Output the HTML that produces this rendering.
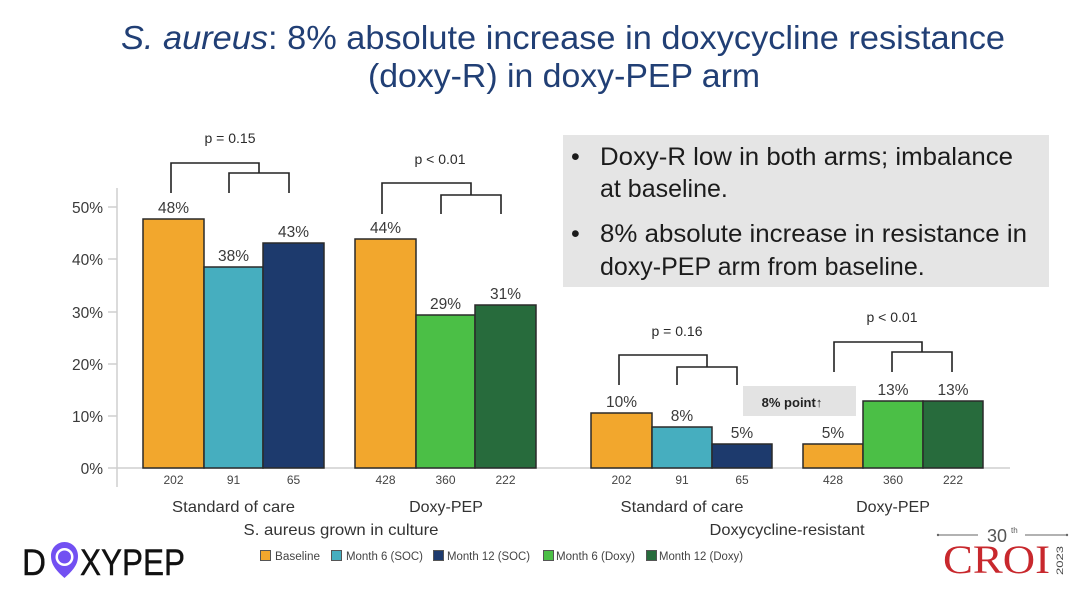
<!DOCTYPE html>
<html>
<head>
<meta charset="utf-8">
<style>
html,body{margin:0;padding:0;background:#fff;}
svg{display:block;}
text{font-family:"Liberation Sans",Arial,sans-serif;}
</style>
</head>
<body>
<svg width="1080" height="604" viewBox="0 0 1080 604" xmlns="http://www.w3.org/2000/svg">
<rect x="0" y="0" width="1080" height="604" fill="#ffffff"/>

<!-- Title -->
<text x="121" y="49" font-size="33" fill="#213f75" textLength="884" lengthAdjust="spacingAndGlyphs"><tspan font-style="italic">S. aureus</tspan>: 8% absolute increase in doxycycline resistance</text>
<text x="368" y="87" font-size="33" fill="#213f75" textLength="392" lengthAdjust="spacingAndGlyphs">(doxy-R) in doxy-PEP arm</text>

<!-- Gray bullet box -->
<rect x="563" y="135" width="486" height="152" fill="#e5e5e5"/>
<g font-size="25" fill="#1c1c1c">
<text x="571" y="165">•</text>
<text x="600" y="165" textLength="413" lengthAdjust="spacingAndGlyphs">Doxy-R low in both arms; imbalance</text>
<text x="600" y="197">at baseline.</text>
<text x="571" y="242">•</text>
<text x="600" y="242" textLength="427" lengthAdjust="spacingAndGlyphs">8% absolute increase in resistance in</text>
<text x="600" y="275">doxy-PEP arm from baseline.</text>
</g>

<!-- Axes -->
<line x1="117" y1="188" x2="117" y2="487" stroke="#cfcfcf" stroke-width="1.5"/>
<line x1="108" y1="468" x2="1010" y2="468" stroke="#cfcfcf" stroke-width="1.5"/>
<g stroke="#cfcfcf" stroke-width="1.5">
<line x1="108" y1="207" x2="117" y2="207"/>
<line x1="108" y1="259" x2="117" y2="259"/>
<line x1="108" y1="312" x2="117" y2="312"/>
<line x1="108" y1="364" x2="117" y2="364"/>
<line x1="108" y1="416" x2="117" y2="416"/>
</g>
<g font-size="15.5" fill="#3a3a3a" text-anchor="end">
<text x="103" y="213">50%</text>
<text x="103" y="265">40%</text>
<text x="103" y="318">30%</text>
<text x="103" y="370">20%</text>
<text x="103" y="422">10%</text>
<text x="103" y="474">0%</text>
</g>

<!-- Bars left -->
<g stroke="#2a2a2a" stroke-width="1.5">
<rect x="143" y="219" width="61" height="249" fill="#f2a72d"/>
<rect x="204" y="267" width="59" height="201" fill="#46aebf"/>
<rect x="263" y="243" width="61" height="225" fill="#1d3a6d"/>
<rect x="355" y="239" width="61" height="229" fill="#f2a72d"/>
<rect x="416" y="315" width="59" height="153" fill="#4bbf46"/>
<rect x="475" y="305" width="61" height="163" fill="#276b3c"/>
<!-- Bars right -->
<rect x="591" y="413" width="61" height="55" fill="#f2a72d"/>
<rect x="652" y="427" width="60" height="41" fill="#46aebf"/>
<rect x="712" y="444" width="60" height="24" fill="#1d3a6d"/>
<rect x="803" y="444" width="60" height="24" fill="#f2a72d"/>
<rect x="863" y="401" width="60" height="67" fill="#4bbf46"/>
<rect x="923" y="401" width="60" height="67" fill="#276b3c"/>
</g>

<!-- Value labels -->
<g font-size="15.5" fill="#3a3a3a" text-anchor="middle">
<text x="173.5" y="213">48%</text>
<text x="233.5" y="261">38%</text>
<text x="293.5" y="237">43%</text>
<text x="385.5" y="233">44%</text>
<text x="445.5" y="309">29%</text>
<text x="505.5" y="299">31%</text>
<text x="621.5" y="407">10%</text>
<text x="682" y="421">8%</text>
<text x="742" y="438">5%</text>
<text x="833" y="438">5%</text>
<text x="893" y="395">13%</text>
<text x="953" y="395">13%</text>
</g>

<!-- Brackets -->
<g fill="none" stroke="#222" stroke-width="1.6">
<path d="M171,193 V163 H259 V173"/>
<path d="M229,193 V173 H289 V193"/>
<path d="M382,214 V183 H471 V195"/>
<path d="M441,214 V195 H501 V214"/>
<path d="M619,385 V355 H707 V367"/>
<path d="M677,385 V367 H737 V385"/>
<path d="M834,372 V342 H922 V352"/>
<path d="M892,372 V352 H952 V372"/>
</g>
<g font-size="14" fill="#2a2a2a" text-anchor="middle">
<text x="230" y="143">p = 0.15</text>
<text x="440" y="164">p &lt; 0.01</text>
<text x="677" y="336">p = 0.16</text>
<text x="892" y="322">p &lt; 0.01</text>
</g>

<!-- 8% point box -->
<rect x="743" y="386" width="113" height="30" fill="#e3e3e3"/>
<text x="792" y="407" font-size="13" font-weight="bold" fill="#222" text-anchor="middle">8% point↑</text>

<!-- N labels -->
<g font-size="12" fill="#444" text-anchor="middle">
<text x="173.5" y="484">202</text>
<text x="233.5" y="484">91</text>
<text x="293.5" y="484">65</text>
<text x="385.5" y="484">428</text>
<text x="445.5" y="484">360</text>
<text x="505.5" y="484">222</text>
<text x="621.5" y="484">202</text>
<text x="682" y="484">91</text>
<text x="742" y="484">65</text>
<text x="833" y="484">428</text>
<text x="893" y="484">360</text>
<text x="953" y="484">222</text>
</g>

<!-- Category labels -->
<g font-size="16" fill="#333" text-anchor="middle">
<text x="233.5" y="512" textLength="123" lengthAdjust="spacingAndGlyphs">Standard of care</text>
<text x="446" y="512">Doxy-PEP</text>
<text x="341" y="535" textLength="195" lengthAdjust="spacingAndGlyphs">S. aureus grown in culture</text>
<text x="682" y="512" textLength="123" lengthAdjust="spacingAndGlyphs">Standard of care</text>
<text x="893" y="512">Doxy-PEP</text>
<text x="787" y="535" textLength="155" lengthAdjust="spacingAndGlyphs">Doxycycline-resistant</text>
</g>

<!-- Legend -->
<g stroke="#555" stroke-width="1">
<rect x="260.5" y="550.5" width="10" height="10" fill="#f2a72d"/>
<rect x="331.5" y="550.5" width="10" height="10" fill="#46aebf"/>
<rect x="433.5" y="550.5" width="10" height="10" fill="#1d3a6d"/>
<rect x="543.5" y="550.5" width="10" height="10" fill="#4bbf46"/>
<rect x="646.5" y="550.5" width="10" height="10" fill="#276b3c"/>
</g>
<g font-size="11.5" fill="#444">
<text x="275" y="560" textLength="45" lengthAdjust="spacingAndGlyphs">Baseline</text>
<text x="346" y="560" textLength="77" lengthAdjust="spacingAndGlyphs">Month 6 (SOC)</text>
<text x="447" y="560" textLength="83" lengthAdjust="spacingAndGlyphs">Month 12 (SOC)</text>
<text x="556" y="560" textLength="79" lengthAdjust="spacingAndGlyphs">Month 6 (Doxy)</text>
<text x="659" y="560" textLength="84" lengthAdjust="spacingAndGlyphs">Month 12 (Doxy)</text>
</g>

<!-- DOXYPEP logo -->
<text x="22" y="575" font-size="37" fill="#111" stroke="#111" stroke-width="0.4" textLength="24" lengthAdjust="spacingAndGlyphs">D</text>
<path d="M64.5,578 C58,572 51,566 51,556 C51,548 57,542 64.5,542 C72,542 78,548 78,556 C78,566 71,572 64.5,578 Z" fill="#7250f2"/>
<circle cx="64.5" cy="557" r="9" fill="#ffffff"/>
<circle cx="64.5" cy="557" r="6.5" fill="#7250f2"/>
<text x="80" y="575" font-size="37" fill="#111" stroke="#111" stroke-width="0.4" textLength="105" lengthAdjust="spacingAndGlyphs">XYPEP</text>

<!-- CROI logo -->
<g stroke="#666" stroke-width="1">
<line x1="938" y1="535" x2="978" y2="535"/>
<line x1="1025" y1="535" x2="1067" y2="535"/>
</g>
<circle cx="938" cy="535" r="1.2" fill="#666"/>
<circle cx="1067" cy="535" r="1.2" fill="#666"/>
<text x="987" y="542" font-size="18" fill="#555">30</text>
<text x="1011" y="533" font-size="8" fill="#555">th</text>
<text x="943" y="573" style="font-family:'Liberation Serif','Times New Roman',serif;" font-size="40" fill="#c8282d" textLength="107" lengthAdjust="spacingAndGlyphs">CROI</text>
<text x="0" y="0" font-size="9" fill="#444" transform="translate(1063,575) rotate(-90)" textLength="29" lengthAdjust="spacingAndGlyphs">2023</text>
</svg>
</body>
</html>
